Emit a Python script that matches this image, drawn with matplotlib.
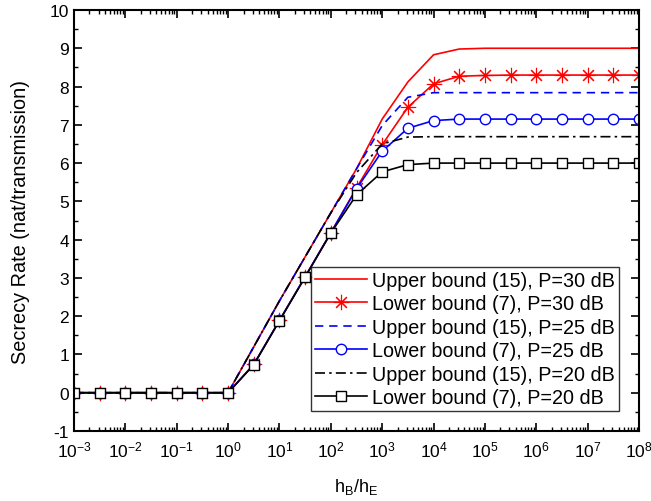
import matplotlib
matplotlib.use("Agg")
import matplotlib.pyplot as plt
from matplotlib.ticker import FixedLocator, LogLocator, MultipleLocator, FuncFormatter, NullFormatter
import numpy as np

plt.rcParams['font.family'] = ['Liberation Sans', 'DejaVu Sans']
plt.rcParams['mathtext.default'] = 'regular'
plt.rcParams['axes.unicode_minus'] = False

# x positions as exponents of 10 (half-decade steps)
x_exp = [-3, -2.5, -2, -1.5, -1, -0.5, 0, 0.5, 1, 1.5, 2, 2.5,
         3, 3.5, 4, 4.5, 5, 5.5, 6, 6.5, 7, 7.5, 8]

upper_30 = [0, 0, 0, 0, 0, 0, 0, 1.2, 2.4, 3.55, 4.7, 5.85,
            7.15, 8.12, 8.83, 8.98, 9.0, 9.0, 9.0, 9.0, 9.0, 9.0, 9.0]
lower_30 = [0, 0, 0, 0, 0, 0, 0, 0.74, 1.89, 3.03, 4.18, 5.35,
            6.48, 7.46, 8.07, 8.27, 8.29, 8.3, 8.3, 8.3, 8.3, 8.3, 8.3]
upper_25 = [0, 0, 0, 0, 0, 0, 0, 1.2, 2.4, 3.55, 4.7, 5.85,
            6.98, 7.72, 7.84, 7.84, 7.84, 7.84, 7.84, 7.84, 7.84, 7.84, 7.84]
lower_25 = [0, 0, 0, 0, 0, 0, 0, 0.74, 1.89, 3.03, 4.18, 5.33,
            6.31, 6.91, 7.11, 7.15, 7.15, 7.15, 7.15, 7.15, 7.15, 7.15, 7.15]
upper_20 = [0, 0, 0, 0, 0, 0, 0, 1.2, 2.4, 3.55, 4.7, 5.75,
            6.5, 6.68, 6.69, 6.69, 6.69, 6.69, 6.69, 6.69, 6.69, 6.69, 6.69]
lower_20 = [0, 0, 0, 0, 0, 0, 0, 0.73, 1.88, 3.02, 4.17, 5.17,
            5.77, 5.96, 6.0, 6.0, 6.0, 6.0, 6.0, 6.0, 6.0, 6.0, 6.0]

labels = ["Upper bound (15), P=30 dB", "Lower bound (7), P=30 dB",
          "Upper bound (15), P=25 dB", "Lower bound (7), P=25 dB",
          "Upper bound (15), P=20 dB", "Lower bound (7), P=20 dB"]

x = 10.0 ** np.array(x_exp)

fig = plt.figure(figsize=(6.51, 5.02), dpi=100)
ax = fig.add_axes([74/651, 1-432/502, (639-74)/651, (432-11)/502])

lw = 1.2
ax.plot(x, upper_30, '-', color='red', lw=lw, label=labels[0])
ax.plot(x, lower_30, '-', color='red', lw=lw, marker=(8, 2, 0), ms=11,
        mew=0.8, label=labels[1])
ax.plot(x, upper_25, '--', color='blue', lw=lw, dashes=(5, 3.5), label=labels[2])
ax.plot(x, lower_25, '-', color='blue', lw=lw, marker='o', ms=7.5,
        mfc='white', mew=1.0, label=labels[3])
ax.plot(x, upper_20, '-.', color='black', lw=lw, dashes=(6, 2.5, 1.5, 2.5), label=labels[4])
ax.plot(x, lower_20, '-', color='black', lw=lw, marker='s', ms=7,
        mfc='white', mew=1.0, label=labels[5])

ax.set_xscale('log')
ax.set_xlim(1e-3, 1e8)
ax.set_ylim(-1, 10)

ax.xaxis.set_major_locator(FixedLocator([10.0 ** k for k in range(-3, 9)]))
ax.xaxis.set_minor_locator(LogLocator(base=10, subs=np.arange(2, 10), numticks=30))
ax.xaxis.set_major_formatter(FuncFormatter(lambda v, p: r'$10^{%d}$' % int(round(np.log10(v)))))
ax.xaxis.set_minor_formatter(NullFormatter())
ax.yaxis.set_major_locator(MultipleLocator(1))
ax.yaxis.set_minor_locator(MultipleLocator(0.5))
ax.yaxis.set_major_formatter(FuncFormatter(lambda v, p: '%d' % v))

ax.tick_params(which='both', direction='in', top=True, right=True, labelsize=12.5)
ax.tick_params(which='major', length=6, width=1.2)
ax.tick_params(which='minor', length=3, width=1.0)
ax.tick_params(axis='x', which='major', pad=6)
for s in ax.spines.values():
    s.set_linewidth(1.5)

ax.set_ylabel('Secrecy Rate (nat/transmission)', fontsize=14.3, labelpad=14)
ax.set_xlabel(r'h$_B$/h$_E$', fontsize=13, labelpad=12)

leg = ax.legend(loc='lower right', fontsize=14.2, frameon=True, fancybox=False,
                edgecolor='black', handlelength=2.6, handletextpad=0.3,
                borderpad=0.2, labelspacing=0.23, borderaxespad=1.0)
leg.get_frame().set_linewidth(1.0)

fig.savefig('out.png', dpi=100)
